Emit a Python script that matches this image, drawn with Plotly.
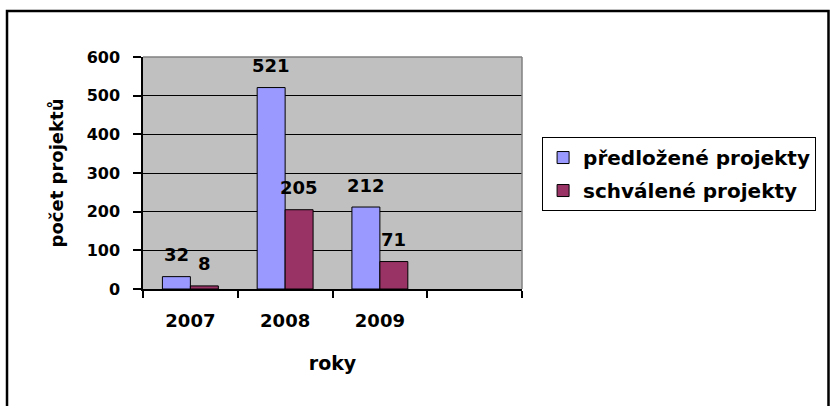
import plotly.graph_objects as go

categories = ["2007", "2008", "2009", " "]
series_names = ["předložené projekty", "schválené projekty"]
submitted = [32, 521, 212]
approved = [8, 205, 71]
y_ticks = [0, 100, 200, 300, 400, 500, 600]

colors = ["#9999FF", "#993366"]
FONT = "DejaVu Sans"

fig = go.Figure()
for k, (name, vals, col) in enumerate(zip(series_names, [submitted, approved], colors)):
    fig.add_trace(go.Bar(
        x=categories[:len(vals)], y=vals, name=name, legendgroup=f"g{k}",
        marker=dict(color=col, line=dict(color="black", width=1)),
        hoverinfo="skip",
    ))

# data labels (category index positions on the categorical axis)
annotations = []
for i, vals in enumerate([submitted, approved]):
    shift = -14 if i == 0 else 14
    for j, v in enumerate(vals):
        annotations.append(dict(
            x=j, y=v, xref="x", yref="y", text=str(v), showarrow=False,
            xshift=shift, yshift=22,
            font=dict(family=FONT, size=18, color="black", weight="bold"),
        ))

fig.update_layout(
    width=830, height=406,
    margin=dict(l=143, r=308, t=57, b=117),
    paper_bgcolor="white", plot_bgcolor="#C0C0C0",
    barmode="group", bargap=0.41, bargroupgap=0,
    showlegend=True,
    legend=dict(
        x=1.053, y=0.655, xanchor="left", yanchor="top",
        bgcolor="white", bordercolor="black", borderwidth=1,
        font=dict(family=FONT, size=20, color="black", weight="bold"),
        tracegroupgap=4,
    ),
    annotations=annotations,
    font=dict(family=FONT, color="black"),
)

fig.update_xaxes(
    type="category", categoryorder="array", categoryarray=categories,
    range=[-0.5, 3.5], tickson="boundaries",
    showline=True, linecolor="black", linewidth=1.5,
    ticks="outside", ticklen=7, tickcolor="black", tickwidth=1.5,
    ticklabelstandoff=15,
    tickfont=dict(family=FONT, size=18, color="black", weight="bold"),
    title=dict(text="roky", standoff=26,
               font=dict(family=FONT, size=19, color="black", weight="bold")),
    showgrid=False, automargin=False,
)
fig.update_yaxes(
    range=[0, 600], tickvals=y_ticks,
    showline=True, linecolor="black", linewidth=1.5,
    ticks="outside", ticklen=8, tickcolor="black", tickwidth=1.5,
    ticklabelstandoff=10,
    tickfont=dict(family=FONT, size=16, color="black", weight="bold"),
    showgrid=True, gridcolor="black", gridwidth=1, zeroline=False,
    title=dict(text="počet projektů", standoff=18,
               font=dict(family=FONT, size=18, color="black", weight="bold")),
    automargin=False,
)

# plot-area border (top and right, gray) and outer chart frame
fig.add_shape(type="line", xref="x domain", yref="y domain",
              x0=0, x1=1, y0=1, y1=1, line=dict(color="#808080", width=1.5), layer="above")
fig.add_shape(type="line", xref="x domain", yref="y domain",
              x0=1, x1=1, y0=0, y1=1, line=dict(color="#808080", width=1.5), layer="above")
fig.add_shape(type="path", xref="paper", yref="paper",
              path="M -0.3588,-0.52 L -0.3588,1.198 L 1.8087,1.198 L 1.8087,-0.52",
              line=dict(color="black", width=2.5))

fig.write_html("out.html", config={"displayModeBar": False},
               post_script="document.body.style.margin='0';")
